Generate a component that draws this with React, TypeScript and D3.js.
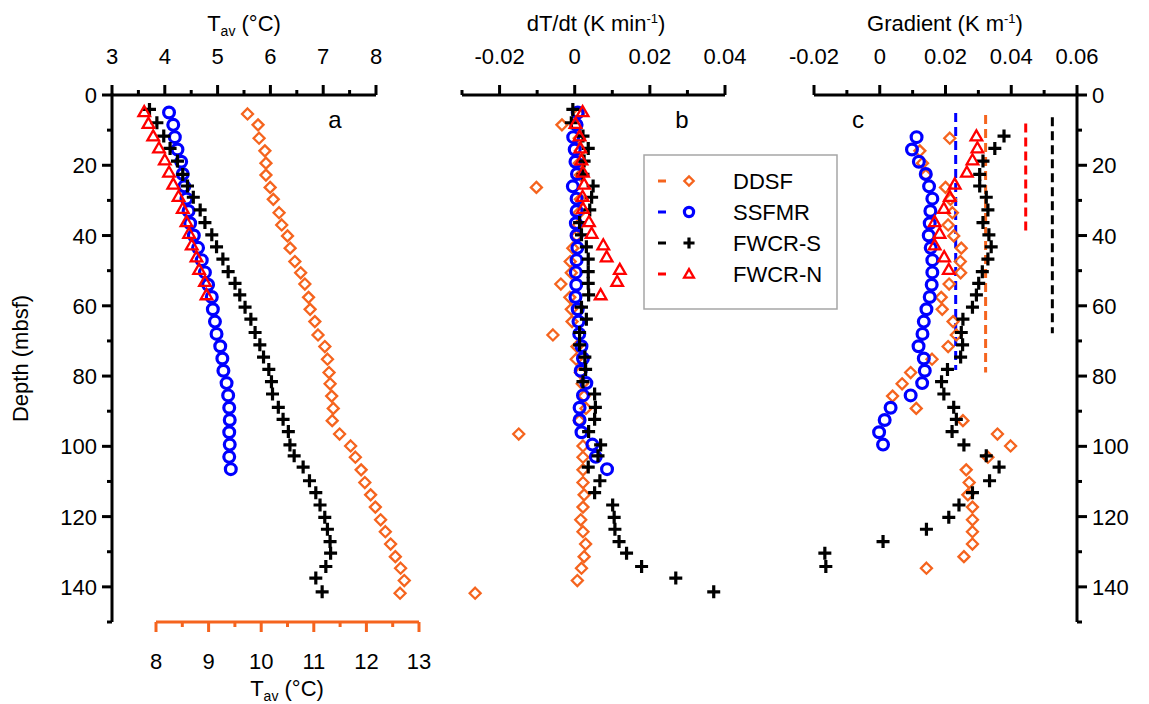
import React from 'react';
import * as d3 from 'd3';

// ---------- DATA ----------
const depthDDSF = [5.4, 8.5, 12.3, 15.9, 19.4, 22.8, 26.3, 29.7, 33.5, 37, 40.1, 43.6, 47.4, 50.6, 53.8, 57.6, 61, 64.5, 68.3, 71.6, 75.2, 79, 82.2, 85.7, 89.2, 92.7, 96.5, 99.9, 103.1, 106.7, 110.3, 113.8, 117.3, 120.9, 124.3, 127.8, 131.4, 134.7, 138.2, 141.8];
const tempDDSF = [9.74, 9.94, 9.96, 10.07, 10.09, 10.09, 10.17, 10.23, 10.34, 10.39, 10.5, 10.55, 10.64, 10.75, 10.83, 10.9, 10.93, 11.02, 11.08, 11.21, 11.26, 11.29, 11.31, 11.34, 11.37, 11.35, 11.49, 11.7, 11.79, 11.9, 11.97, 12.08, 12.17, 12.27, 12.36, 12.46, 12.55, 12.65, 12.72, 12.64];
const rateDDSF = [0.001, -0.0034, 0.0012, 0.0015, 0.0012, 0.0015, -0.0102, 0.0015, 0.0012, 0.001, 0.0005, -0.0005, -0.0012, -0.0009, -0.0037, -0.0013, -0.0009, -0.0007, -0.0058, 0.0006, 0.0004, 0.0015, 0.002, 0.0025, 0.003, 0.0012, -0.0149, 0.0022, 0.0022, 0.0022, 0.0022, 0.0025, 0.0022, 0.0016, 0.0022, 0.0029, 0.0025, 0.0018, 0.0007, -0.0265];
const gradDepthDDSF = [12.3, 15.9, 19.4, 22.8, 26.3, 29.7, 33.5, 37, 40.1, 43.6, 47.4, 50.6, 53.8, 57.6, 61, 64.5, 68.3, 71.6, 75.2, 79, 82.2, 85.7, 89.2, 92.7, 96.5, 99.9, 103.1, 106.7, 110.3, 113.8, 117.3, 120.9, 124.3, 127.8, 131.4, 134.7];
const gradDDSF = [0.0213, 0.0122, 0.013, 0.014, 0.02, 0.0215, 0.0221, 0.0208, 0.0225, 0.0248, 0.0245, 0.0246, 0.0211, 0.0187, 0.019, 0.0223, 0.0233, 0.0208, 0.0159, 0.0094, 0.0068, 0.0039, 0.0111, 0.0253, 0.0358, 0.0398, 0.0329, 0.0263, 0.0272, 0.0268, 0.0282, 0.0282, 0.0282, 0.0282, 0.0256, 0.0142];

const depthSSFMR = [5, 8.5, 12, 15.5, 19, 22.5, 26, 29.5, 33, 36.5, 40, 43.5, 47, 50.5, 54, 57.5, 61, 64.5, 68, 71.5, 75, 78.5, 82, 85.5, 89, 92.5, 96, 99.5, 103, 106.5];
const tempSSFMR = [4.08, 4.16, 4.19, 4.24, 4.31, 4.34, 4.37, 4.41, 4.45, 4.48, 4.55, 4.63, 4.7, 4.76, 4.82, 4.89, 4.91, 4.95, 4.98, 5.05, 5.09, 5.11, 5.17, 5.2, 5.22, 5.23, 5.22, 5.23, 5.22, 5.25];
const rateSSFMR = [0.0008, 0.0005, -0.0004, 0.0, 0.0002, 0.0006, -0.0005, 0.0005, 0.0005, 0.0003, 0.0005, 0.0007, 0.0005, 0.0003, 0.0004, 0.0002, 0.0008, 0.001, 0.0012, 0.0018, 0.0022, 0.0016, 0.0031, 0.0022, 0.0013, 0.0013, 0.0018, 0.0047, 0.0056, 0.0086];
const gradDepthSSFMR = [12, 15.5, 19, 22.5, 26, 29.5, 33, 36.5, 40, 43.5, 47, 50.5, 54, 57.5, 61, 64.5, 68, 71.5, 75, 78.5, 82, 85.5, 89, 92.5, 96, 99.5];
const gradSSFMR = [0.0112, 0.0098, 0.0119, 0.014, 0.015, 0.016, 0.0154, 0.0152, 0.0149, 0.0155, 0.016, 0.016, 0.0158, 0.0152, 0.0142, 0.0134, 0.013, 0.0118, 0.0134, 0.0137, 0.0129, 0.0094, 0.0033, 0.0015, -0.0002, 0.001];

const depthFWCRS = [4.1, 7.9, 11.7, 15.2, 18.8, 22.6, 25.9, 29.1, 32.7, 36.3, 39.8, 43.2, 46.7, 50.3, 53.6, 56.9, 60.4, 63.8, 67.6, 71.1, 74.6, 78.1, 81.6, 85.1, 88.9, 92.3, 95.8, 99.6, 102.7, 105.9, 109.8, 113.2, 116.7, 120.2, 123.6, 127.1, 130.4, 134.2, 137.5, 141.4];
const tempFWCRS = [3.71, 3.85, 3.98, 4.1, 4.24, 4.34, 4.43, 4.54, 4.67, 4.76, 4.89, 4.98, 5.1, 5.2, 5.33, 5.42, 5.52, 5.63, 5.71, 5.8, 5.87, 5.97, 6.02, 6.04, 6.15, 6.24, 6.34, 6.37, 6.45, 6.62, 6.74, 6.86, 6.94, 7.03, 7.08, 7.13, 7.14, 7.05, 6.86, 6.98];
const rateFWCRS = [-0.0005, -0.0009, 0.0022, 0.0036, 0.0025, 0.0022, 0.0049, 0.0045, 0.004, 0.0013, 0.0018, 0.0031, 0.0036, 0.0036, 0.0036, 0.0037, 0.0018, 0.0031, 0.0013, 0.0013, 0.0027, 0.0029, 0.0022, 0.0053, 0.0055, 0.0053, 0.0037, 0.0069, 0.0062, 0.0036, 0.0067, 0.0053, 0.0101, 0.0105, 0.0107, 0.0118, 0.0138, 0.0178, 0.0269, 0.037];
const gradDepthFWCRS = [11.7, 15.2, 18.8, 22.6, 25.9, 29.1, 32.7, 36.3, 39.8, 43.2, 46.7, 50.3, 53.6, 56.9, 60.4, 63.8, 67.6, 71.1, 74.6, 78.1, 81.6, 85.1, 88.9, 92.3, 95.8, 99.6, 102.7, 105.9, 109.8, 113.2, 116.7, 120.2, 123.6, 127.1, 130.4, 134.2];
const gradFWCRS = [0.0378, 0.035, 0.0314, 0.0304, 0.0304, 0.0324, 0.0329, 0.0314, 0.0332, 0.0339, 0.0329, 0.0312, 0.0301, 0.0294, 0.0282, 0.0253, 0.0248, 0.0252, 0.0246, 0.0206, 0.0188, 0.0195, 0.0225, 0.0233, 0.022, 0.0256, 0.0324, 0.0363, 0.0334, 0.0282, 0.0241, 0.021, 0.0142, 0.001, -0.0167, -0.0164];

const depthFWCRN = [4.8, 8.1, 11.7, 15.1, 18.5, 22, 25.4, 28.9, 32.3, 36.1, 39.4, 42.7, 46.1, 49.7, 53.1, 56.9];
const tempFWCRN = [3.61, 3.69, 3.78, 3.89, 4.0, 4.08, 4.16, 4.26, 4.34, 4.41, 4.46, 4.51, 4.6, 4.65, 4.76, 4.79];
const rateFWCRN = [0.0021, 0.0002, 0.0013, 0.0015, 0.0018, 0.0022, 0.0025, 0.0021, 0.0022, 0.0038, 0.0045, 0.0076, 0.0085, 0.012, 0.0113, 0.0069];
const gradDepthFWCRN = [11.7, 15.1, 18.5, 22, 25.4, 28.9, 32.3, 36.1, 39.4, 42.7, 46.1, 49.7];
const gradFWCRN = [0.0294, 0.0297, 0.0282, 0.0265, 0.0228, 0.0213, 0.0195, 0.0167, 0.0182, 0.0167, 0.0196, 0.021];

// mean gradient (dashed lines): value, top depth, bottom depth
const seriesNames = ['DDSF', 'SSFMR', 'FWCR-S', 'FWCR-N'];
const meanGrad = [0.0322, 0.0231, 0.0525, 0.0444];
const meanTop = [5.7, 5.1, 6.3, 8.1];
const meanBottom = [79, 78.3, 67.8, 39.8];

const depthTicks = [0, 20, 40, 60, 80, 100, 120, 140];
const tempTopTicks = [3, 4, 5, 6, 7, 8];
const tempBottomTicks = [8, 9, 10, 11, 12, 13];
const rateTicks = [-0.02, 0, 0.02, 0.04];
const gradTicks = [-0.02, 0, 0.02, 0.04, 0.06];

// ---------- STYLE ----------
const ORANGE = '#F5641E';
const BLUE = '#0000FF';
const RED = '#FF0000';
const BLACK = '#000000';
const COLORS = [ORANGE, BLUE, BLACK, RED];
const SHAPES = ['diamond', 'circle', 'plus', 'triangle'];
const FONT = 'Arial, "Liberation Sans", Helvetica, sans-serif';
const FS = 22;

const y = d3.scaleLinear().domain([0, 150]).range([95, 622]);
const xA = d3.scaleLinear().domain([3, 8]).range([112, 376]);
const xA2 = d3.scaleLinear().domain([8, 13]).range([156, 419]);
const xB = d3.scaleLinear().domain([-0.03, 0.04]).range([462, 725]);
const xC = d3.scaleLinear().domain([-0.02, 0.06]).range([814, 1077]);

function Marker({ shape, x, y: yy, color, k = 1 }: any) {
  if (shape === 'diamond') {
    const r = 5.5 * k;
    return <path d={`M${x},${yy - r}L${x + r},${yy}L${x},${yy + r}L${x - r},${yy}Z`} fill="none" stroke={color} strokeWidth={2.3} />;
  }
  if (shape === 'circle') {
    return <circle cx={x} cy={yy} r={5.4 * k} fill="none" stroke={color} strokeWidth={3.2} />;
  }
  if (shape === 'plus') {
    const r = 6.5 * k;
    return <path d={`M${x - r},${yy}H${x + r}M${x},${yy - r}V${yy + r}`} fill="none" stroke={color} strokeWidth={3.2} />;
  }
  const r = 5.8 * k;
  return <path d={`M${x},${yy - r}L${x + r},${yy + r * 0.75}L${x - r},${yy + r * 0.75}Z`} fill="none" stroke={color} strokeWidth={2.3} />;
}

function Series({ xs, ds, sx, idx }: any) {
  return (
    <g>
      {xs.map((v: number, i: number) => (
        <Marker key={i} shape={SHAPES[idx]} x={sx(v)} y={y(ds[i])} color={COLORS[idx]} />
      ))}
    </g>
  );
}

function TopAxis({ scale, majors, minors, fmt, y0 = 95, color = BLACK, down = false, labelY }: any) {
  const [a, b] = scale.range();
  const dir = down ? 1 : -1;
  return (
    <g>
      <line x1={a} x2={b} y1={y0} y2={y0} stroke={color} strokeWidth={3} />
      {majors.map((t: number) => (
        <line key={'M' + t} x1={scale(t)} x2={scale(t)} y1={y0} y2={y0 + dir * 10} stroke={color} strokeWidth={3} />
      ))}
      {minors.map((t: number) => (
        <line key={'m' + t} x1={scale(t)} x2={scale(t)} y1={y0} y2={y0 + dir * 5} stroke={color} strokeWidth={3} />
      ))}
      {majors.map((t: number) => (
        <text key={'L' + t} x={scale(t)} y={labelY} textAnchor="middle" fontFamily={FONT} fontSize={FS} fill={BLACK}>
          {fmt(t)}
        </text>
      ))}
    </g>
  );
}

function DepthAxis({ x0, side }: any) {
  const dir = side === 'left' ? -1 : 1;
  const minors = d3.range(10, 151, 20);
  return (
    <g>
      <line x1={x0} x2={x0} y1={y(0) - 1.5} y2={y(150)} stroke={BLACK} strokeWidth={3} />
      {depthTicks.map((t) => (
        <line key={'M' + t} x1={x0} x2={x0 + dir * 10} y1={y(t)} y2={y(t)} stroke={BLACK} strokeWidth={3} />
      ))}
      {minors.map((t) => (
        <line key={'m' + t} x1={x0} x2={x0 + dir * 5} y1={y(t)} y2={y(t)} stroke={BLACK} strokeWidth={3} />
      ))}
      {depthTicks.map((t) => (
        <text key={'L' + t} x={x0 + dir * 15} y={y(t) + 8} textAnchor={side === 'left' ? 'end' : 'start'} fontFamily={FONT} fontSize={FS}>
          {t}
        </text>
      ))}
    </g>
  );
}

const fmtRate = (t: number) => (t === 0 ? '0' : d3.format('.2f')(t).replace('−', '-'));

export default function App() {
  const series = [
    { temp: tempDDSF, tScale: xA2, depth: depthDDSF, rate: rateDDSF, grad: gradDDSF, gdepth: gradDepthDDSF },
    { temp: tempSSFMR, tScale: xA, depth: depthSSFMR, rate: rateSSFMR, grad: gradSSFMR, gdepth: gradDepthSSFMR },
    { temp: tempFWCRS, tScale: xA, depth: depthFWCRS, rate: rateFWCRS, grad: gradFWCRS, gdepth: gradDepthFWCRS },
    { temp: tempFWCRN, tScale: xA, depth: depthFWCRN, rate: rateFWCRN, grad: gradFWCRN, gdepth: gradDepthFWCRN },
  ];
  const legendY = [181, 212, 243, 274];
  return (
    <svg width={1149} height={704} style={{ position: 'absolute', left: 0, top: 0, background: '#fff' }} fontFamily={FONT}>
      <rect x={0} y={0} width={1149} height={704} fill="#fff" />

      {/* Panel a */}
      <TopAxis scale={xA} majors={tempTopTicks} minors={d3.range(3.5, 8, 1)} fmt={(t: number) => String(t)} labelY={64} />
      <TopAxis scale={xA2} majors={tempBottomTicks} minors={d3.range(8.5, 13, 1)} fmt={(t: number) => String(t)} y0={622} color={ORANGE} down labelY={669} />
      <DepthAxis x0={112} side="left" />
      <text x={244} y={31} textAnchor="middle" fontSize={FS}>
        T<tspan fontSize={14} dy={5}>av</tspan><tspan dy={-5}> (°C)</tspan>
      </text>
      <text x={287} y={696} textAnchor="middle" fontSize={FS}>
        T<tspan fontSize={14} dy={5}>av</tspan><tspan dy={-5}> (°C)</tspan>
      </text>
      <text transform={`translate(28,${y(75)}) rotate(-90)`} textAnchor="middle" fontSize={FS}>Depth (mbsf)</text>
      <text x={335} y={128} textAnchor="middle" fontSize={24}>a</text>
      {series.map((s, i) => (
        <Series key={'a' + i} xs={s.temp} ds={s.depth} sx={s.tScale} idx={i} />
      ))}

      {/* Panel b */}
      <TopAxis scale={xB} majors={rateTicks} minors={[-0.03, -0.01, 0.01, 0.03]} fmt={fmtRate} labelY={64} />
      <text x={596} y={31} textAnchor="middle" fontSize={FS}>
        dT/dt (K min<tspan fontSize={13} dy={-8}>-1</tspan><tspan dy={8}>)</tspan>
      </text>
      <text x={682} y={128} textAnchor="middle" fontSize={24}>b</text>
      {series.map((s, i) => (
        <Series key={'b' + i} xs={s.rate} ds={s.depth} sx={xB} idx={i} />
      ))}

      {/* Legend */}
      <rect x={644} y={155} width={193} height={154} fill="#fff" stroke="#a6a6a6" strokeWidth={1.5} />
      {seriesNames.map((n, i) => (
        <g key={n}>
          <line x1={658} x2={666} y1={legendY[i]} y2={legendY[i]} stroke={COLORS[i]} strokeWidth={3} />
          <Marker shape={SHAPES[i]} x={689} y={legendY[i]} color={COLORS[i]} k={0.85} />
          <text x={733} y={legendY[i] + 8} fontSize={FS}>{n}</text>
        </g>
      ))}

      {/* Panel c */}
      <TopAxis scale={xC} majors={gradTicks} minors={[-0.01, 0.01, 0.03, 0.05]} fmt={fmtRate} labelY={64} />
      <DepthAxis x0={1077} side="right" />
      <text x={945} y={31} textAnchor="middle" fontSize={FS}>
        Gradient (K m<tspan fontSize={13} dy={-8}>-1</tspan><tspan dy={8}>)</tspan>
      </text>
      <text x={858} y={128} textAnchor="middle" fontSize={24}>c</text>
      {meanGrad.map((g, i) => (
        <line key={'mg' + i} x1={xC(g)} x2={xC(g)} y1={y(meanTop[i])} y2={y(meanBottom[i])} stroke={COLORS[i]} strokeWidth={3} strokeDasharray="9,5" />
      ))}
      {series.map((s, i) => (
        <Series key={'c' + i} xs={s.grad} ds={s.gdepth} sx={xC} idx={i} />
      ))}
    </svg>
  );
}
